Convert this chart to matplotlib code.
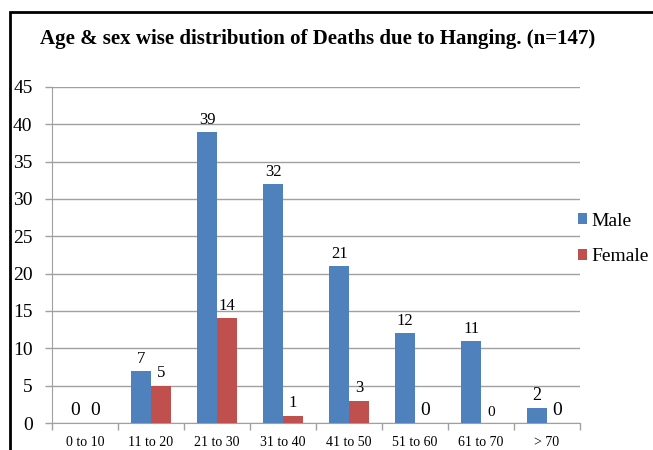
import matplotlib
matplotlib.use("Agg")
import matplotlib.pyplot as plt
import numpy as np
from matplotlib.patches import Rectangle

categories = ["0 to 10", "11 to 20", "21 to 30", "31 to 40", "41 to 50", "51 to 60", "61 to 70", "> 70"]
male = [0, 7, 39, 32, 21, 12, 11, 2]
female = [0, 5, 14, 1, 3, 0, 0, 0]
male_label_sizes = [14, 12, 12, 12, 12, 12, 12, 13]
female_label_sizes = [14, 12, 12, 12, 12, 14, 11, 14]

title = "Age & sex wise distribution of Deaths due to Hanging. (n=147)"

plt.rcParams['font.family'] = ['Liberation Serif', 'DejaVu Serif']

fig = plt.figure(figsize=(6.53, 4.5), dpi=100)
ax = fig.add_axes([52/653, 1-423/450, (580-52)/653, (423-87)/450])

x = np.arange(len(categories))
w = 0.3
bm = ax.bar(x - w/2, male, w, color="#4F81BD", label="Male", zorder=3)
bf = ax.bar(x + w/2, female, w, color="#C0504D", label="Female", zorder=3)

for rect, v, s in zip(bm, male, male_label_sizes):
    ax.annotate(str(v), (rect.get_x() + rect.get_width()/2, v), xytext=(0, 3),
                textcoords="offset points", ha="center", va="bottom", fontsize=s)
for rect, v, s in zip(bf, female, female_label_sizes):
    ax.annotate(str(v), (rect.get_x() + rect.get_width()/2, v), xytext=(0, 3),
                textcoords="offset points", ha="center", va="bottom", fontsize=s)

ax.set_xlim(-0.5, len(categories) - 0.5)
ax.set_ylim(0, 45)
ax.set_yticks(np.arange(0, 46, 5))
ax.yaxis.grid(True, color="#A0A0A0", linewidth=1, zorder=0)
ax.tick_params(axis="y", labelsize=14, color="#A0A0A0", length=5, width=1, pad=9)

ax.set_xticks(x)
ax.set_xticklabels(categories, fontsize=10)
ax.tick_params(axis="x", which="major", length=0, pad=9)
ax.set_xticks(np.arange(-0.5, len(categories), 1), minor=True)
ax.tick_params(axis="x", which="minor", length=5, color="#A0A0A0", width=1)

for side in ["top", "right"]:
    ax.spines[side].set_visible(False)
for side in ["left", "bottom"]:
    ax.spines[side].set_color("#A0A0A0")

leg = fig.legend(handles=[bm, bf], labels=["Male", "Female"], loc="upper left",
                 bbox_to_anchor=(560/653, 1-195/450), frameon=False, fontsize=14,
                 handlelength=0.5, handleheight=0.5, handletextpad=0.2, labelspacing=0.95)

fig.text(40/653, 1-44/450, title, fontsize=15, fontweight="bold", ha="left", va="baseline")

fig.patches.append(Rectangle((10/653, -0.1), 1.2, 1 - 12/450 + 0.1, transform=fig.transFigure,
                             fill=False, edgecolor="black", linewidth=2))

fig.savefig("out.png", dpi=100)
